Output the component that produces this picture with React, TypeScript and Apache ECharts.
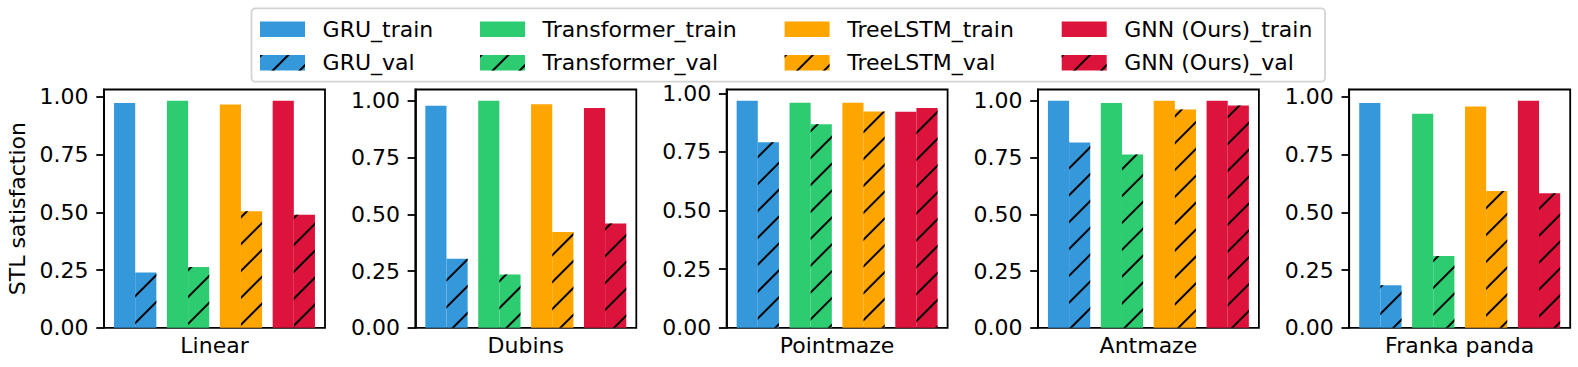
import React, { useEffect, useRef } from "react";
import * as echarts from "echarts";

const categories = ["Linear", "Dubins", "Pointmaze", "Antmaze", "Franka panda"];
const models = ["GRU", "Transformer", "TreeLSTM", "GNN (Ours)"];
const modelColors = ["#3498db", "#2ecc71", "#ffa500", "#dc143c"];
const yTicks = [0, 0.25, 0.5, 0.75, 1.0];

// values per model across categories (Linear, Dubins, Pointmaze, Antmaze, Franka panda)
const gruTrain = [0.974, 0.978, 0.968, 1.0, 0.974];
const gruVal = [0.24, 0.304, 0.791, 0.816, 0.184];
const transformerTrain = [0.983, 1.0, 0.96, 0.991, 0.927];
const transformerVal = [0.263, 0.235, 0.868, 0.764, 0.311];
const treeLstmTrain = [0.967, 0.985, 0.96, 1.0, 0.959];
const treeLstmVal = [0.505, 0.422, 0.923, 0.962, 0.593];
const gnnTrain = [0.983, 0.968, 0.921, 1.0, 0.983];
const gnnVal = [0.49, 0.46, 0.937, 0.98, 0.583];

const trainValues = [gruTrain, transformerTrain, treeLstmTrain, gnnTrain];
const valValues = [gruVal, transformerVal, treeLstmVal, gnnVal];

const FONT = "DejaVu Sans";
const FS = 22;

export default function App() {
  const ref = useRef<HTMLDivElement>(null);
  useEffect(() => {
    if (!ref.current) return;
    const chart = echarts.init(ref.current, null, { renderer: "svg" });

    const frameTop = 89.5;
    const frameHeight = 238.3;
    const frameWidth = 221;
    const frameLeft0 = 104;
    const panelStep = 311.3;
    const innerInset = 4.75;
    const barW = 21.15;
    const lineW = 1.8;

    const grid: any[] = [];
    const xAxis: any[] = [];
    const yAxis: any[] = [];
    const series: any[] = [];

    const hatch = {
      symbol: "rect",
      symbolSize: 1,
      color: "#000",
      dashArrayX: [1, 0],
      dashArrayY: [2, 16.9],
      rotation: -Math.PI / 4,
    };

    categories.forEach((cat, p) => {
      const left = frameLeft0 + p * panelStep;
      const allVals: number[] = [];
      models.forEach((_, m) => {
        allVals.push(trainValues[m][p], valValues[m][p]);
      });
      const ymax = Math.max(...allVals) * 1.05;

      // frame grid with y axis
      grid.push({
        left,
        top: frameTop,
        width: frameWidth,
        height: frameHeight,
        show: true,
        borderColor: "#000",
        borderWidth: lineW,
        backgroundColor: "transparent",
      });
      xAxis.push({
        type: "category",
        gridIndex: 2 * p,
        data: [cat],
        axisLine: { show: false },
        axisTick: { show: false },
        axisLabel: { show: false },
        splitLine: { show: false },
        name: cat,
        nameLocation: "middle",
        nameGap: 7,
        nameTextStyle: { fontSize: FS, fontFamily: FONT, color: "#000", verticalAlign: "top" },
      });
      yAxis.push({
        type: "value",
        gridIndex: 2 * p,
        min: 0,
        max: ymax,
        splitLine: { show: false },
        axisLine: { show: true, lineStyle: { color: "#000", width: lineW } },
        axisTick: {
          show: true,
          length: 7.7,
          lineStyle: { color: "#000", width: lineW },
          customValues: yTicks,
        },
        axisLabel: {
          customValues: yTicks,
          formatter: (v: number) => v.toFixed(2),
          margin: 15.4,
          fontSize: FS,
          fontFamily: FONT,
          color: "#000",
        },
        name: p === 0 ? "STL satisfaction" : "",
        nameLocation: "middle",
        nameGap: 76,
        nameTextStyle: { fontSize: FS, fontFamily: FONT, color: "#000" },
      });

      // inner grid for bars
      grid.push({
        left: left + innerInset,
        top: frameTop,
        width: frameWidth - 2 * innerInset,
        height: frameHeight,
      });
      xAxis.push({
        type: "category",
        gridIndex: 2 * p + 1,
        data: models,
        show: false,
      });
      yAxis.push({
        type: "value",
        gridIndex: 2 * p + 1,
        min: 0,
        max: ymax,
        show: false,
      });

      models.forEach((model, m) => {
        ["train", "val"].forEach((kind) => {
          const vals = kind === "train" ? trainValues[m] : valValues[m];
          series.push({
            name: `${model}_${kind}`,
            type: "bar",
            xAxisIndex: 2 * p + 1,
            yAxisIndex: 2 * p + 1,
            stack: `p${p}_${kind}`,
            barWidth: barW,
            barGap: "0%",
            data: models.map((_, i) => (i === m ? vals[p] : "-")),
            itemStyle: {
              color: modelColors[m],
              ...(kind === "val" ? { decal: hatch } : {}),
            },
          });
        });
      });
    });

    const colX = [260, 480, 784.6, 1061.7];
    const rowTop = [18.3, 51.7];
    const legend: any[] = [];
    models.forEach((model, m) => {
      ["train", "val"].forEach((kind, r) => {
        legend.push({
          data: [`${model}_${kind}`],
          left: colX[m],
          top: rowTop[r],
          icon: "rect",
          itemWidth: 45,
          itemHeight: 15.4,
          padding: 0,
          selectedMode: false,
          textStyle: {
            fontSize: FS,
            fontFamily: FONT,
            color: "#000",
            padding: [0, 0, 0, 12.6],
          },
        });
      });
    });

    chart.setOption({
      animation: false,
      backgroundColor: "#fff",
      textStyle: { fontFamily: FONT },
      grid,
      xAxis,
      yAxis,
      series,
      legend,
      graphic: [
        {
          type: "rect",
          z: 0,
          shape: { x: 251.5, y: 8.3, width: 1073.5, height: 73.4, r: 4 },
          style: { fill: "#fff", stroke: "#d4d4d4", lineWidth: 1.8 },
        },
      ],
    });
    return () => chart.dispose();
  }, []);
  return (
    <div
      ref={ref}
      style={{ position: "absolute", left: 0, top: 0, width: 1578, height: 367 }}
    />
  );
}
